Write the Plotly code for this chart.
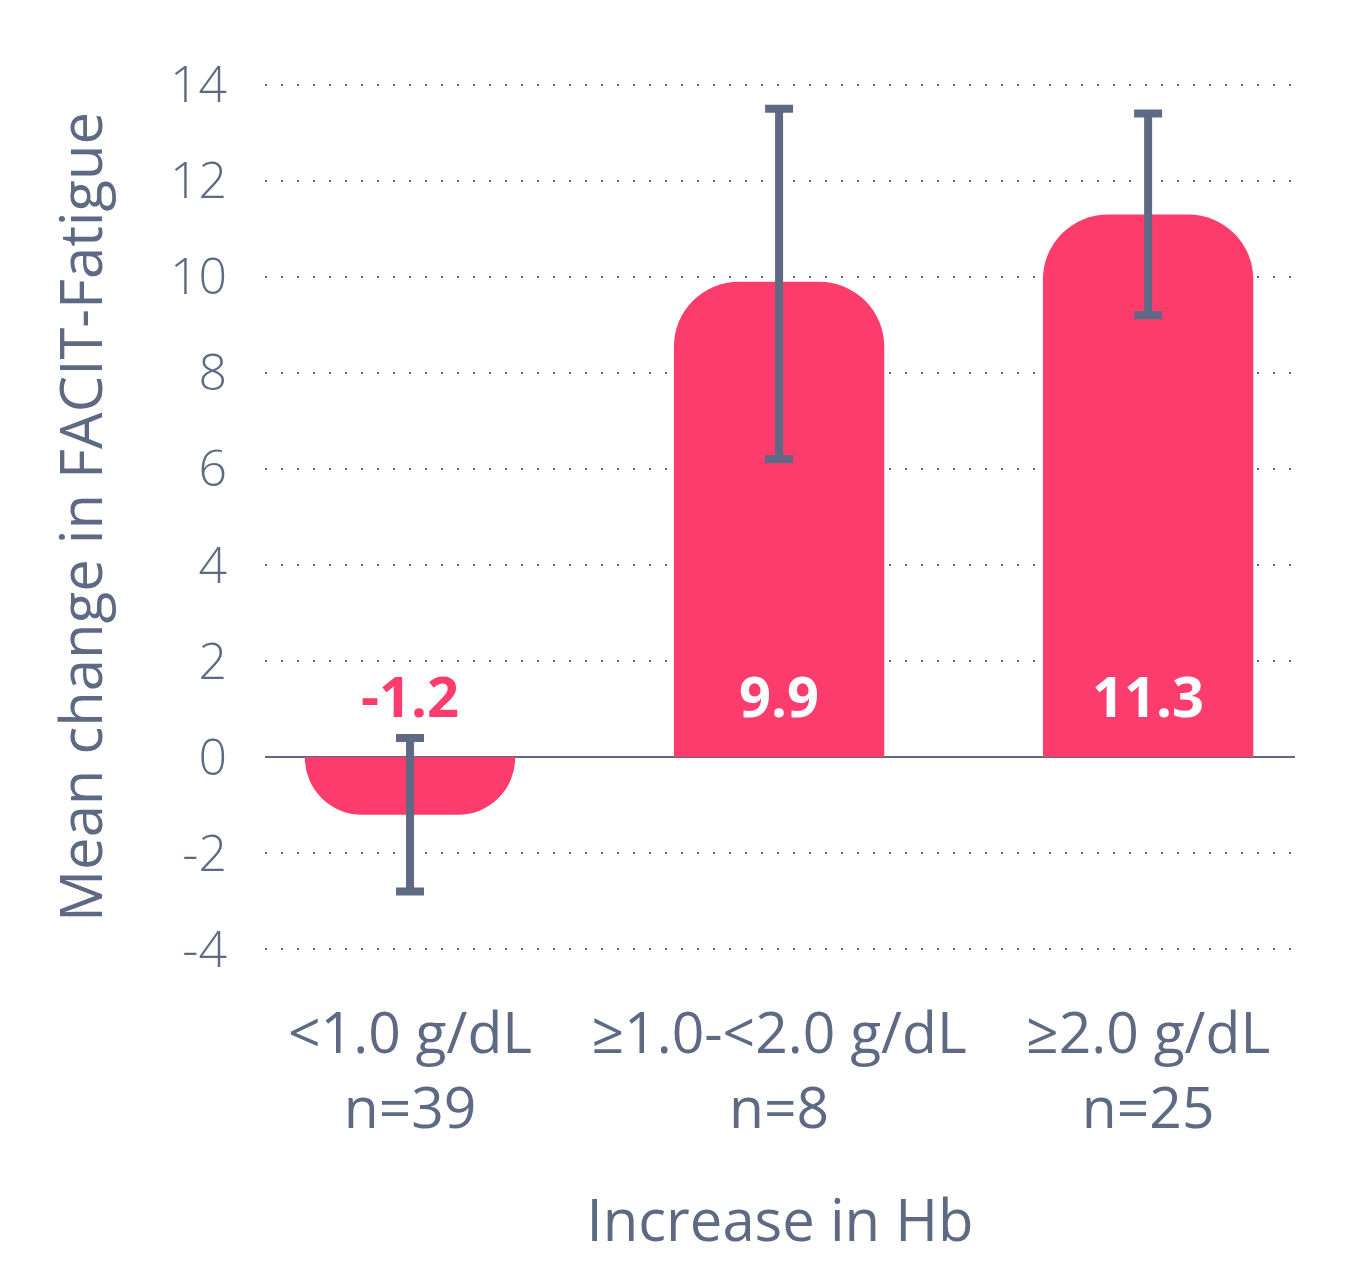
import plotly.graph_objects as go

categories = ['<1.0 g/dL<br>n=39', '≥1.0-<2.0 g/dL<br>n=8', '≥2.0 g/dL<br>n=25']
mean_change = [-1.2, 9.9, 11.3]
err_plus = [1.6, 3.6, 2.1]
err_minus = [1.6, 3.7, 2.1]
value_labels = ['-1.2', '9.9', '11.3']
label_y = [1.3, 1.3, 1.3]
y_ticks = [-4, -2, 0, 2, 4, 6, 8, 10, 12, 14]
y_tick_text = ['-4', '-2', '0', '2', '4', '6', '8', '10', '12', '14']

PINK = '#FC3C6C'
SLATE = '#5E6A84'
FONT = 'Open Sans'

fig = go.Figure()

fig.add_trace(go.Bar(
    x=categories,
    y=mean_change,
    marker=dict(color=PINK, line=dict(width=0)),
    error_y=dict(type='data', symmetric=False, array=err_plus, arrayminus=err_minus,
                 color=SLATE, thickness=8, width=14),
    hoverinfo='skip',
))

# value labels
for cat, yv, txt in zip(categories, label_y, value_labels):
    fig.add_annotation(
        x=cat, y=yv, text=txt, showarrow=False, yanchor='middle',
        font=dict(family=FONT, size=56, color=PINK if txt.startswith('-') else 'white', weight=700),
    )

# page body has an 8px margin, so margins are shifted by that
fig.update_layout(
    width=1355, height=1281,
    paper_bgcolor='white', plot_bgcolor='white',
    margin=dict(l=257, r=68, t=72, b=335),
    bargap=0.43,
    barcornerradius=65,
    showlegend=False,
    font=dict(family=FONT, color=SLATE),
)

fig.update_xaxes(
    range=[-0.393, 2.398],
    showgrid=False, showline=False, zeroline=False,
    ticks='outside', ticklen=30, tickcolor='rgba(0,0,0,0)',
    tickfont=dict(family=FONT, size=57, color=SLATE),
    title=dict(text='Increase in Hb', standoff=56,
               font=dict(family=FONT, size=58, color=SLATE)),
)

fig.update_yaxes(
    range=[-4.1, 14.1],
    tickvals=y_ticks, ticktext=y_tick_text,
    showgrid=True, gridcolor=SLATE, gridwidth=2, griddash='2px,14px',
    zeroline=True, zerolinecolor=SLATE, zerolinewidth=2,
    showline=False,
    ticks='outside', ticklen=27, tickcolor='rgba(0,0,0,0)',
    tickfont=dict(family=FONT, size=50, color=SLATE, weight=300),
    title=dict(text='Mean change in FACIT-Fatigue', standoff=48,
               font=dict(family=FONT, size=58, color=SLATE)),
)

fig.write_html('out.html')
